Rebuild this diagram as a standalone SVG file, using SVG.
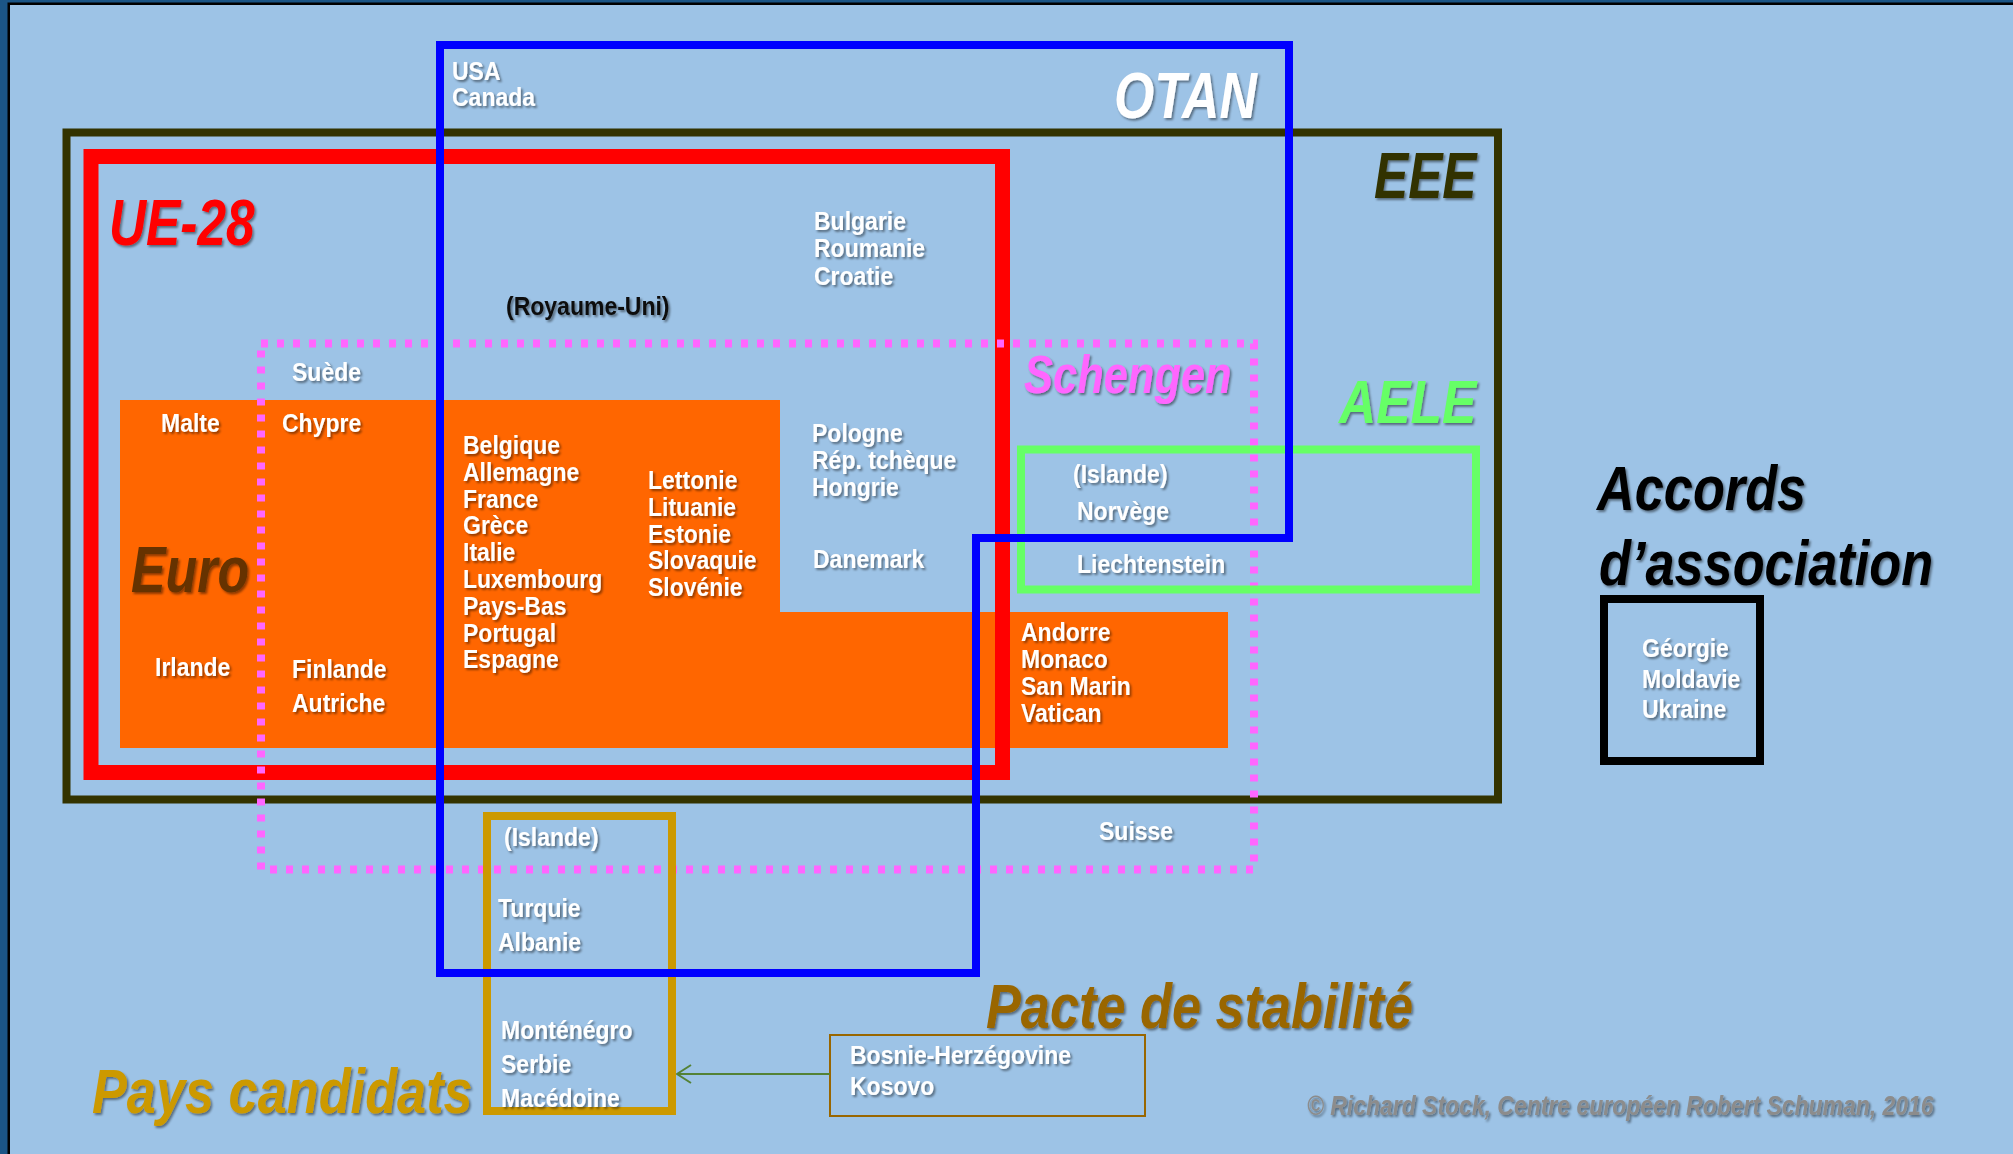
<svg xmlns="http://www.w3.org/2000/svg" width="2013" height="1154" viewBox="0 0 2013 1154">
<defs>
<filter id="sh" x="-10%" y="-20%" width="130%" height="150%">
<feDropShadow dx="2" dy="2" stdDeviation="1.2" flood-color="#000" flood-opacity="0.45"/>
</filter>
<marker id="ah" viewBox="0 0 16 20" refX="15" refY="10" markerWidth="16" markerHeight="20" markerUnits="userSpaceOnUse" orient="auto">
<path d="M1,1 L15,10 L1,19" fill="none" stroke="#548235" stroke-width="2"/>
</marker>
</defs>
<style>
.t{font-family:"Liberation Sans",Arial,sans-serif;font-weight:bold;font-size:25px;fill:#fff;filter:url(#sh)}
.ttl{font-family:"Liberation Sans",Arial,sans-serif;font-weight:bold;font-style:italic;filter:url(#sh)}
.box{fill:none}
</style>
<rect x="0" y="0" width="2013" height="1154" fill="#1b5586"/>
<rect x="7.5" y="2.5" width="2006" height="1152" fill="#000"/>
<rect x="10" y="5" width="2003" height="1149" fill="#9dc3e6"/>

<g id="euro">
<path d="M120,400 H780 V612 H1228 V748 H120 Z" fill="#ff6600"/>
<text class="ttl" font-size="64" fill="#663300" transform="translate(131 592) scale(0.81 1)">Euro</text>
<text class="t" transform="translate(161 432) scale(0.92 1)">Malte</text>
<text class="t" transform="translate(282 432) scale(0.92 1)">Chypre</text>
<text class="t" transform="translate(155 676) scale(0.92 1)">Irlande</text>
<text class="t" transform="translate(292 0) scale(0.92 1)"><tspan x="0" y="678">Finlande</tspan><tspan x="0" y="712">Autriche</tspan></text>
<text class="t" transform="translate(463 0) scale(0.92 1)"><tspan x="0" y="454">Belgique</tspan><tspan x="0" y="481">Allemagne</tspan><tspan x="0" y="508">France</tspan><tspan x="0" y="534">Grèce</tspan><tspan x="0" y="561">Italie</tspan><tspan x="0" y="588">Luxembourg</tspan><tspan x="0" y="615">Pays-Bas</tspan><tspan x="0" y="642">Portugal</tspan><tspan x="0" y="668">Espagne</tspan></text>
<text class="t" transform="translate(648 0) scale(0.92 1)"><tspan x="0" y="489">Lettonie</tspan><tspan x="0" y="516">Lituanie</tspan><tspan x="0" y="543">Estonie</tspan><tspan x="0" y="569">Slovaquie</tspan><tspan x="0" y="596">Slovénie</tspan></text>
<text class="t" transform="translate(1021 0) scale(0.92 1)"><tspan x="0" y="641">Andorre</tspan><tspan x="0" y="668">Monaco</tspan><tspan x="0" y="695">San Marin</tspan><tspan x="0" y="722">Vatican</tspan></text>
</g>

<g id="eee">
<rect class="box" x="66.5" y="132.5" width="1431.5" height="667" stroke="#333300" stroke-width="8"/>
<text class="ttl" font-size="64" fill="#333300" transform="translate(1374 198) scale(0.80 1)">EEE</text>
</g>

<g id="ue28">
<rect class="box" x="91" y="156.5" width="911.5" height="616" stroke="#ff0000" stroke-width="15"/>
<text class="ttl" font-size="65" fill="#ff0000" transform="translate(109 245) scale(0.79 1)">UE-28</text>
<text class="t" style="fill:#111" transform="translate(506 315) scale(0.92 1)">(Royaume-Uni)</text>
<text class="t" transform="translate(814 0) scale(0.92 1)"><tspan x="0" y="230">Bulgarie</tspan><tspan x="0" y="257">Roumanie</tspan><tspan x="0" y="285">Croatie</tspan></text>
<text class="t" transform="translate(812 0) scale(0.92 1)"><tspan x="0" y="442">Pologne</tspan><tspan x="0" y="469">Rép. tchèque</tspan><tspan x="0" y="496">Hongrie</tspan></text>
<text class="t" transform="translate(813 568) scale(0.92 1)">Danemark</text>
</g>

<g id="schengen">
<rect class="box" x="261" y="343.5" width="993" height="526" stroke="#ff66ff" stroke-width="8" stroke-dasharray="7 9"/>
<text class="ttl" font-size="53" fill="#ff66ff" transform="translate(1024 393) scale(0.82 1)">Schengen</text>
<text class="t" transform="translate(292 381) scale(0.92 1)">Suède</text>
<text class="t" transform="translate(1099 840) scale(0.92 1)">Suisse</text>
</g>

<g id="aele">
<rect class="box" x="1021" y="449.5" width="455" height="140" stroke="#66ff66" stroke-width="8"/>
<text class="ttl" font-size="62" fill="#66ff66" transform="translate(1339 423) scale(0.83 1)">AELE</text>
<text class="t" transform="translate(1073 483) scale(0.92 1)">(Islande)</text>
<text class="t" transform="translate(1077 520) scale(0.92 1)">Norvège</text>
<text class="t" transform="translate(1077 573) scale(0.92 1)">Liechtenstein</text>
</g>

<g id="candidats">
<rect class="box" x="487" y="816" width="185" height="295" stroke="#cc9900" stroke-width="8"/>
<text class="ttl" font-size="63" fill="#cc9900" transform="translate(92 1113) scale(0.83 1)">Pays candidats</text>
<text class="t" transform="translate(504 846) scale(0.92 1)">(Islande)</text>
<text class="t" transform="translate(498 0) scale(0.92 1)"><tspan x="0" y="917">Turquie</tspan><tspan x="0" y="951">Albanie</tspan></text>
<text class="t" transform="translate(501 0) scale(0.92 1)"><tspan x="0" y="1039">Monténégro</tspan><tspan x="0" y="1073">Serbie</tspan><tspan x="0" y="1107">Macédoine</tspan></text>
</g>

<g id="otan">
<path class="box" d="M440,45 H1289 V538 H976 V973 H440 Z" stroke="#0000ff" stroke-width="8"/>
<text class="ttl" font-size="64" fill="#ffffff" transform="translate(1114 118) scale(0.81 1)">OTAN</text>
<text class="t" transform="translate(452 0) scale(0.92 1)"><tspan x="0" y="80">USA</tspan><tspan x="0" y="106">Canada</tspan></text>
</g>

<g id="pacte">
<rect class="box" x="830" y="1035" width="315" height="81" stroke="#996600" stroke-width="2"/>
<text class="ttl" font-size="63" fill="#996600" transform="translate(986 1028) scale(0.83 1)">Pacte de stabilité</text>
<text class="t" transform="translate(850 0) scale(0.92 1)"><tspan x="0" y="1064">Bosnie-Herzégovine</tspan><tspan x="0" y="1095">Kosovo</tspan></text>
</g>

<g id="accords">
<rect class="box" x="1604" y="599" width="156" height="162" stroke="#000" stroke-width="8"/>
<text class="ttl" font-size="63" fill="#000" transform="translate(1597 510) scale(0.83 1)">Accords</text>
<text class="ttl" font-size="63" fill="#000" transform="translate(1599 585) scale(0.83 1)">d’association</text>
<text class="t" transform="translate(1642 0) scale(0.92 1)"><tspan x="0" y="657">Géorgie</tspan><tspan x="0" y="688">Moldavie</tspan><tspan x="0" y="718">Ukraine</tspan></text>
</g>

<g id="connectors">
<path d="M830,1074 H677" fill="none" stroke="#548235" stroke-width="2" marker-end="url(#ah)"/>
</g>

<g id="credit">
<text class="ttl" font-size="28" fill="#8c8c8c" transform="translate(1307 1115) scale(0.82 1)">© Richard Stock, Centre européen Robert Schuman, 2016</text>
</g>
</svg>
